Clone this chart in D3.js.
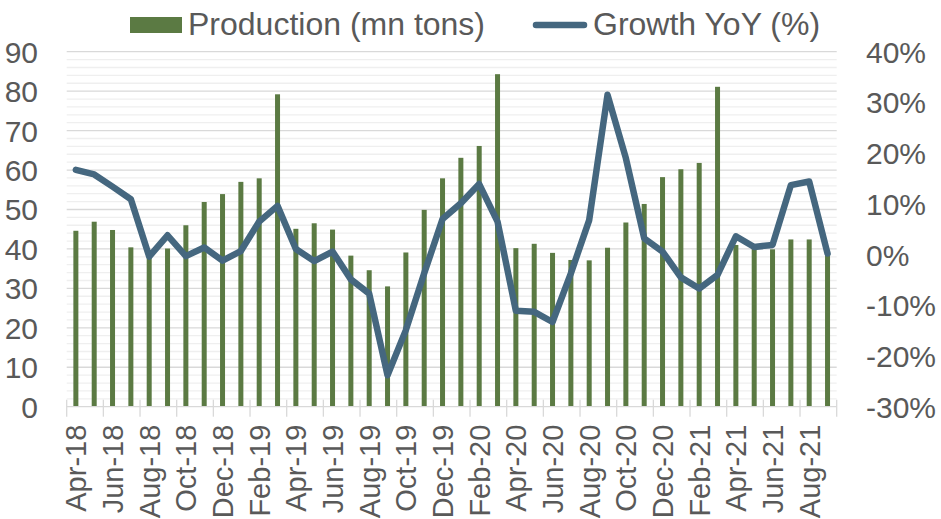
<!DOCTYPE html>
<html>
<head>
<meta charset="utf-8">
<script src="https://cdn.jsdelivr.net/npm/d3@7"></script>
<style>
  body { margin: 0; background: #fff; }
  text { font-family: "Liberation Sans", Arial, sans-serif; fill: #595959; }
</style>
</head>
<body>
<div id="chart"></div>
<script>
const months = [
    "Apr-18", "May-18", "Jun-18", "Jul-18", "Aug-18", "Sep-18", "Oct-18", "Nov-18", "Dec-18", "Jan-19", "Feb-19", "Mar-19",
    "Apr-19", "May-19", "Jun-19", "Jul-19", "Aug-19", "Sep-19", "Oct-19", "Nov-19", "Dec-19", "Jan-20", "Feb-20", "Mar-20",
    "Apr-20", "May-20", "Jun-20", "Jul-20", "Aug-20", "Sep-20", "Oct-20", "Nov-20", "Dec-20", "Jan-21", "Feb-21", "Mar-21",
    "Apr-21", "May-21", "Jun-21", "Jul-21", "Aug-21", "Sep-21"
];
const production = [
    44.6, 46.9, 44.8, 40.4, 38.0, 40.1, 46.0, 51.9, 53.9, 57.0, 57.9, 79.2,
    45.1, 46.5, 44.9, 38.3, 34.6, 30.5, 39.1, 49.9, 57.9, 63.1, 66.1, 84.3,
    40.2, 41.3, 39.0, 37.2, 37.1, 40.3, 46.7, 51.4, 58.2, 60.2, 61.8, 81.1,
    41.0, 40.3, 39.9, 42.4, 42.4, 39.5
];
const growth = [
    16.7, 15.8, 13.4, 10.9, -0.4, 3.8, -0.3, 1.4, -1.2, 0.7, 6.5, 9.6,
    1.1, -1.3, 0.6, -4.9, -7.7, -23.8, -14.9, -3.7, 7.0, 10.1, 13.9, 6.5,
    -11.1, -11.3, -13.3, -3.7, 6.8, 31.5, 19.0, 3.2, 0.6, -4.5, -6.7, -4.0,
    3.6, 1.5, 1.9, 13.7, 14.4, 0.2
];
const leftTicks = [0, 10, 20, 30, 40, 50, 60, 70, 80, 90];
const rightTicks = [-30, -20, -10, 0, 10, 20, 30, 40];
const seriesNames = ["Production (mn tons)", "Growth YoY (%)"];

const W = 941, H = 519;
const plotLeft = 66.7, plotRight = 836.7, plotTop = 51.7, plotBottom = 406.7;
const barColor = "#5b7a43";
const lineColor = "#45677f";
const axisFont = 30;

const svg = d3.select("#chart").append("svg")
    .attr("width", W)
    .attr("height", H);

const x = d3.scaleBand().domain(months).range([plotLeft, plotRight]);
const y = d3.scaleLinear().domain([0, 90]).range([plotBottom, plotTop]);
const y2 = d3.scaleLinear().domain([-30, 40]).range([plotBottom, plotTop]);

// gridlines: minor every 2, major every 10
const minor = d3.range(2, 90, 2).filter(v => v % 10 !== 0);
svg.append("g").selectAll("line")
    .data(minor)
    .enter().append("line")
    .attr("x1", plotLeft).attr("x2", plotRight)
    .attr("y1", d => y(d)).attr("y2", d => y(d))
    .attr("stroke", "#efefef")
    .attr("stroke-width", 1.3);

svg.append("g").selectAll("line")
    .data(leftTicks.filter(v => v > 0))
    .enter().append("line")
    .attr("x1", plotLeft).attr("x2", plotRight)
    .attr("y1", d => y(d)).attr("y2", d => y(d))
    .attr("stroke", "#d9d9d9")
    .attr("stroke-width", 1.3);

// bars
const barW = 5;
svg.append("g").selectAll("rect")
    .data(months)
    .enter().append("rect")
    .attr("x", (d) => x(d) + x.bandwidth() / 2 - barW / 2)
    .attr("y", (d, i) => y(production[i]))
    .attr("width", barW)
    .attr("height", (d, i) => y(0) - y(production[i]))
    .attr("fill", barColor);

// x axis line and tick marks at every second category boundary
svg.append("line")
    .attr("x1", plotLeft).attr("x2", plotRight)
    .attr("y1", plotBottom).attr("y2", plotBottom)
    .attr("stroke", "#d9d9d9")
    .attr("stroke-width", 1.3);

const tickPos = d3.range(0, months.length + 1, 2).map(i => plotLeft + i * x.step());
svg.append("g").selectAll("line")
    .data(tickPos)
    .enter().append("line")
    .attr("x1", d => d).attr("x2", d => d)
    .attr("y1", plotBottom - 7).attr("y2", plotBottom + 10)
    .attr("stroke", "#d9d9d9")
    .attr("stroke-width", 1.3);

// x labels, every other month, rotated
svg.append("g").selectAll("text")
    .data(months.filter((m, i) => i % 2 === 0))
    .enter().append("text")
    .attr("transform", d => `translate(${x(d) + x.bandwidth() / 2 + 10.3}, ${plotBottom + 18}) rotate(-90)`)
    .attr("text-anchor", "end")
    .attr("font-size", 29)
    .text(d => d);

// left axis labels
svg.append("g").selectAll("text")
    .data(leftTicks)
    .enter().append("text")
    .attr("x", 38)
    .attr("y", d => y(d) + 11)
    .attr("text-anchor", "end")
    .attr("font-size", axisFont)
    .text(d => d);

// right axis labels
svg.append("g").selectAll("text")
    .data(rightTicks)
    .enter().append("text")
    .attr("x", 866)
    .attr("y", d => y2(d) + 11)
    .attr("text-anchor", "start")
    .attr("font-size", axisFont)
    .text(d => d + "%");

// growth line
const line = d3.line()
    .x((d, i) => x(months[i]) + x.bandwidth() / 2)
    .y(d => y2(d));

svg.append("path")
    .datum(growth)
    .attr("d", line)
    .attr("fill", "none")
    .attr("stroke", lineColor)
    .attr("stroke-width", 6.5)
    .attr("stroke-linejoin", "round")
    .attr("stroke-linecap", "round");

// legend
svg.append("rect")
    .attr("x", 130).attr("y", 17)
    .attr("width", 52).attr("height", 16)
    .attr("fill", barColor);
svg.append("text")
    .attr("x", 188).attr("y", 35)
    .attr("font-size", 32)
    .text(seriesNames[0]);

svg.append("line")
    .attr("x1", 536).attr("x2", 584)
    .attr("y1", 25).attr("y2", 25)
    .attr("stroke", lineColor)
    .attr("stroke-width", 6.5)
    .attr("stroke-linecap", "round");
svg.append("text")
    .attr("x", 593).attr("y", 35)
    .attr("font-size", 32)
    .text(seriesNames[1]);
</script>
</body>
</html>
